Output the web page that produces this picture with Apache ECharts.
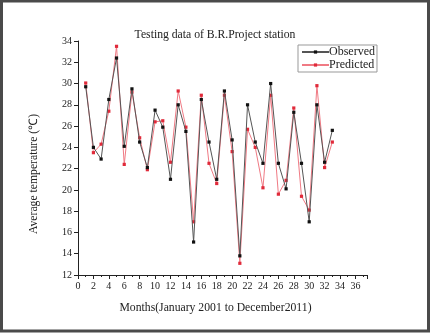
<!doctype html>
<html>
<head>
<meta charset="UTF-8">
<title>Testing data of B.R.Project station</title>
<script src="https://cdn.jsdelivr.net/npm/echarts@6/dist/echarts.min.js"></script>
<style>
  html, body { margin: 0; padding: 0; background: #fff; }
  #main { width: 430px; height: 333px; }
</style>
</head>
<body>
<div id="main"></div>
<script>
// months 1..33
var months = [];
for (var m = 1; m <= 33; m++) months.push(m);

var observed = [29.7, 24.0, 22.9, 28.5, 32.4, 24.1, 29.5, 24.5, 22.1, 27.5,
                25.9, 21.0, 28.0, 25.5, 15.1, 28.5, 24.5, 21.0, 29.3, 24.7,
                13.8, 28.0, 24.5, 22.5, 30.0, 22.5, 20.1, 27.3, 22.5, 17.0,
                28.0, 22.6, 25.6];
var predicted = [30.05, 23.5, 24.3, 27.4, 33.5, 22.4, 29.2, 24.9, 21.9, 26.4,
                 26.5, 22.6, 29.3, 25.9, 17.0, 28.9, 22.5, 20.6, 28.9, 23.6,
                 13.1, 25.7, 24.0, 20.2, 28.9, 19.6, 20.9, 27.7, 19.4, 18.1,
                 29.8, 22.1, 24.5];

function pairs(vals) {
  return vals.map(function (v, i) { return [months[i], v]; });
}

var serif = '"Liberation Serif", "Times New Roman", serif';
var myChart = echarts.init(document.getElementById('main'));

var option = {
  backgroundColor: '#fff',
  animation: false,
  textStyle: { fontFamily: serif },
  title: {
    text: 'Testing data of B.R.Project station',
    left: 'center',
    top: 24,
    textStyle: { fontFamily: serif, fontSize: 11.7, fontWeight: 'normal', color: '#222' }
  },
  graphic: [{
    type: 'rect',
    shape: { x: 1.5, y: 1, width: 427, height: 330 },
    style: { fill: 'none', stroke: '#4a4a4a', lineWidth: 3 },
    silent: true
  }],
  legend: {
    left: 298,
    top: 45,
    orient: 'vertical',
    itemWidth: 27,
    itemHeight: 4,
    itemGap: 1,
    padding: [1, 2, 1, 3],
    borderColor: '#999',
    borderWidth: 1,
    textStyle: { fontFamily: serif, fontSize: 12, lineHeight: 12, color: '#222', padding: [0, 0, 0, -5] },
    data: ['Observed', 'Predicted']
  },
  grid: { left: 78, right: 63, top: 41, bottom: 58 },
  xAxis: {
    type: 'value',
    min: 0,
    max: 37.5,
    interval: 2,
    name: 'Months(January 2001 to December2011)',
    nameLocation: 'middle',
    nameGap: 27,
    nameTextStyle: { fontFamily: serif, fontSize: 11.7, color: '#222', padding: [0, 14, 0, 0] },
    axisLine: { show: true, lineStyle: { color: '#222', width: 1 } },
    axisTick: { show: true, inside: false, length: 4, lineStyle: { color: '#222' } },
    minorTick: { show: true, splitNumber: 2, length: 2, lineStyle: { color: '#222' } },
    axisLabel: { fontFamily: serif, fontSize: 10, color: '#222', margin: 6, showMaxLabel: false },
    splitLine: { show: false }
  },
  yAxis: {
    type: 'value',
    min: 12,
    max: 34,
    interval: 2,
    name: 'Average temperature (\u2103)',
    nameLocation: 'middle',
    nameGap: 38,
    nameTextStyle: { fontFamily: serif, fontSize: 11.7, color: '#222', padding: [0, 32, 0, 0] },
    axisLine: { show: true, lineStyle: { color: '#222', width: 1 } },
    axisTick: { show: true, inside: false, length: 4, lineStyle: { color: '#222' } },
    axisLabel: { fontFamily: serif, fontSize: 10, color: '#222', margin: 6 },
    splitLine: { show: false }
  },
  series: [{
    name: 'Observed',
    type: 'line',
    data: pairs(observed),
    symbol: 'rect',
    symbolSize: 3.2,
    itemStyle: { color: '#111' },
    lineStyle: { color: '#555', width: 1 },
    z: 3
  }, {
    name: 'Predicted',
    type: 'line',
    data: pairs(predicted),
    symbol: 'rect',
    symbolSize: 3.2,
    itemStyle: { color: '#e02a3a' },
    lineStyle: { color: '#f07a84', width: 1 },
    z: 2
  }]
};

myChart.setOption(option);
</script>
</body>
</html>
